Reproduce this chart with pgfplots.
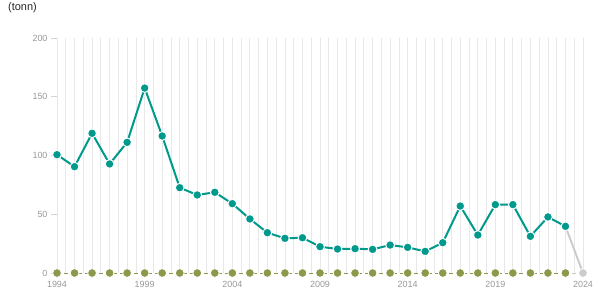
\documentclass[border=0pt]{standalone}
\usepackage{pgfplots}
\pgfplotsset{compat=1.18}
\usepackage{pgfplotstable}
\usepackage{fontspec}
\setmainfont{Liberation Sans}
\definecolor{teal1}{HTML}{009A8D}
\definecolor{olive1}{HTML}{8A9A4A}
\definecolor{grid1}{HTML}{E8E8E8}
\definecolor{lab1}{HTML}{999999}
\definecolor{last1}{HTML}{CCCCCC}
\pgfplotstableread{
year val
1994 100.7
1995 90.5
1996 118.9
1997 92.8
1998 111.2
1999 157.4
2000 116.6
2001 72.6
2002 66.4
2003 68.7
2004 59.0
2005 46.0
2006 34.3
2007 29.5
2008 30.0
2009 22.4
2010 20.4
2011 20.7
2012 20.1
2013 23.8
2014 21.8
2015 18.4
2016 25.8
2017 57.0
2018 32.3
2019 58.2
2020 58.2
2021 31.2
2022 47.7
2023 39.7
}\mainseries
\pgfplotstableread{
year val
1994 0
1995 0
1996 0
1997 0
1998 0
1999 0
2000 0
2001 0
2002 0
2003 0
2004 0
2005 0
2006 0
2007 0
2008 0
2009 0
2010 0
2011 0
2012 0
2013 0
2014 0
2015 0
2016 0
2017 0
2018 0
2019 0
2020 0
2021 0
2022 0
2023 0
}\zeroseries
\begin{document}
\begin{tikzpicture}
\path[use as bounding box] (0,0) rectangle (615bp,305bp);
\node[anchor=west, inner sep=0pt, font=\fontsize{11}{13}\selectfont, text=black!85] at (8bp,297bp) {(tonn)};
\begin{axis}[
  at={(57bp,32bp)}, anchor=south west,
  scale only axis, width=526bp, height=235bp,
  xmin=1994, xmax=2024, ymin=0, ymax=200,
  axis line style={draw=none},
  clip=false,
  xtick={1994,1999,2004,2009,2014,2019,2024},
  minor x tick num=9,
  ytick={0,50,100,150,200},
  xmajorgrids, xminorgrids,
  major grid style={grid1, line width=0.8bp},
  minor grid style={grid1, line width=0.8bp},
  tick align=outside,
  xtick pos=bottom, ytick pos=left,
  major tick length=6bp, minor tick length=0pt,
  xtick style={white, line width=1bp},
  ytick style={grid1!80!gray, line width=0.8bp},
  ticklabel style={font=\fontsize{9}{11}\selectfont, text=lab1},
  xticklabel style={yshift=1bp},
  /pgf/number format/1000 sep={},
  /pgf/number format/assume math mode=true,
]
\addplot[last1, line width=1bp, dash pattern=on 4bp off 3bp, forget plot] coordinates {(2023,0) (2024,0)};
\addplot[last1, line width=2bp, mark=*, mark size=4.4pt, mark options={solid, fill=last1, draw=white, line width=0.8bp}, mark indices={2}] coordinates {(2023,39.7) (2024,0)};
\addplot[olive1, line width=1bp, dash pattern=on 4bp off 3bp, mark=*, mark size=4.4pt, mark options={solid, fill=olive1, draw=white, line width=0.8bp}] table[x=year, y=val] {\zeroseries};
\addplot[teal1, line width=2bp, mark=*, mark size=4.4pt, mark options={fill=teal1, draw=white, line width=1bp}] table[x=year, y=val] {\mainseries};
\end{axis}
\end{tikzpicture}
\end{document}
